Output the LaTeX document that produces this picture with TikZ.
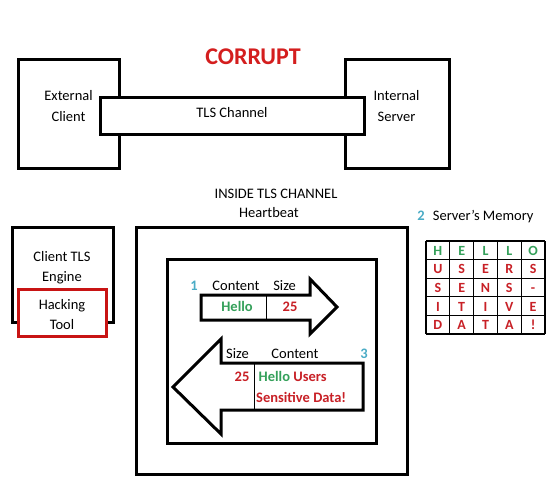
\documentclass[tikz,border=0pt]{standalone}
\usepackage{fontspec}
\setmainfont{Carlito}
\definecolor{hgreen}{RGB}{52,160,90}
\definecolor{hred}{RGB}{200,32,38}
\definecolor{cred}{RGB}{212,30,30}
\definecolor{hblue}{RGB}{75,172,198}
\definecolor{tred}{RGB}{200,20,20}
\begin{document}
\begin{tikzpicture}[x=1pt,y=-1pt,
  box/.style={draw=black,line width=3pt,fill=white},
  redbox/.style={draw=tred,line width=3pt,fill=white},
  arrowshape/.style={draw=black,line width=3pt,fill=white,line join=miter},
  divider/.style={draw=black,line width=1pt},
  gridline/.style={draw=black,line width=1.2pt},
  txt/.style={anchor=base,inner sep=0pt,font=\fontsize{14.5}{17}\selectfont},
  btxt/.style={anchor=base,inner sep=0pt,font=\fontsize{14.5}{17}\selectfont\bfseries},
  num/.style={btxt,text=hblue},
  cell/.style={anchor=base,inner sep=0pt,font=\fontsize{14}{16}\selectfont\bfseries}]
\useasboundingbox[fill=white] (0,0) rectangle (560,488);

% top part
\node[anchor=base,inner sep=0pt,font=\fontsize{24}{28}\selectfont\bfseries,text=cred] (corrupt) at (253,64) {CORRUPT};
\draw[box] (18,59) rectangle (119,168);
\draw[box] (345,59) rectangle (449,168);
\draw[box] (100.5,97) rectangle (364,134);
\node[txt] (ext1) at (68.5,100) {External};
\node[txt] (ext2) at (68.5,121.5) {Client};
\node[txt] (int1) at (396.5,100) {Internal};
\node[txt] (int2) at (396.5,121.5) {Server};
\node[txt] (tls) at (232,117) {TLS Channel};

% client engine
\draw[box] (12,227) rectangle (113,322);
\draw[redbox] (18,289) rectangle (106,336);
\node[txt] (cte1) at (62,261.7) {Client TLS};
\node[txt] (cte2) at (62,281.7) {Engine};
\node[txt] (ht1) at (62,309) {Hacking};
\node[txt] (ht2) at (62,329) {Tool};

% heartbeat
\node[txt] (inside) at (276,198) {INSIDE TLS CHANNEL};
\node[txt] (hb) at (269,217.7) {Heartbeat};
\draw[box] (136,227) rectangle (407,474);
\draw[box] (167,259) rectangle (376,443);

% request arrow
\draw[arrowshape] (201,295) -- (310,295) -- (310,279) -- (337,307) -- (310,334) -- (310,320) -- (201,320) -- cycle;
\draw[divider] (266,295) -- (266,320);
\node[num] (n1) at (194,290) {1};
\node[txt] (c1) at (236,290) {Content};
\node[txt] (s1) at (284.6,290) {Size};
\node[btxt,text=hgreen] (hello1) at (237,311.7) {Hello};
\node[btxt,text=hred] (size1) at (290,311.7) {25};

% response arrow
\draw[arrowshape] (363,363) -- (221,363) -- (221,339) -- (173,387) -- (221,434) -- (221,410) -- (363,410) -- cycle;
\draw[divider] (254,363) -- (254,410);
\node[txt] (s3) at (237.5,358) {Size};
\node[txt] (c3) at (295,358) {Content};
\node[num] (n3) at (364,358) {3};
\node[btxt,text=hred] (size3) at (242,381.7) {25};
\node[btxt,anchor=base west] (resp1) at (258.5,381.7) {\textcolor{hgreen}{Hello} \textcolor{hred}{Users}};
\node[btxt,anchor=base west,text=hred] (resp2) at (256,402) {Sensitive Data!};

% server memory
\node[num] (n2) at (421,220.7) {2};
\node[txt,anchor=base west] (mem) at (432.7,220.7) {Server’s Memory};
\foreach \x in {426,449.8,473.6,497.4,521.2,545} \draw[gridline] (\x,241) -- (\x,334);
\foreach \y in {241,259.6,278.2,296.8,315.4,334} \draw[gridline] (426,\y) -- (545,\y);
\foreach \ch [count=\i from 0] in {H,E,L,L,O}
  \node[cell,text=hgreen] (ga\i) at (437.9+23.8*\i,255.3) {\ch};
\foreach \ch [count=\i from 0] in {U,S,E,R,S}
  \node[cell,text=hred] (gb\i) at (437.9+23.8*\i,273.9) {\ch};
\foreach \ch [count=\i from 0] in {S,E,N,S,-}
  \node[cell,text=hred] (gc\i) at (437.9+23.8*\i,292.5) {\ch};
\foreach \ch [count=\i from 0] in {I,T,I,V,E}
  \node[cell,text=hred] (gd\i) at (437.9+23.8*\i,311.1) {\ch};
\foreach \ch [count=\i from 0] in {D,A,T,A,!}
  \node[cell,text=hred] (ge\i) at (437.9+23.8*\i,329.7) {\ch};
\end{tikzpicture}
\end{document}
